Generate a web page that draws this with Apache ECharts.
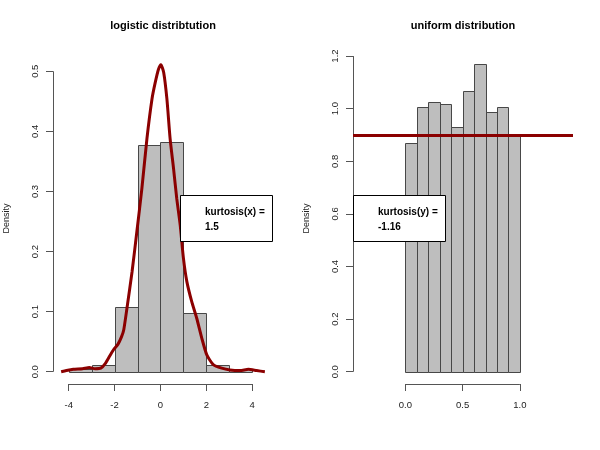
<!DOCTYPE html>
<html><head><meta charset="utf-8">
<script src="https://cdn.jsdelivr.net/npm/echarts@6/dist/echarts.min.js"></script>
<style>html,body{margin:0;padding:0;background:#fff}#c{width:600px;height:450px}</style>
</head><body><div id="c"></div>
<script>
// ---- data ----
const titles = ['logistic distribtution', 'uniform distribution'];
const logisticBreaks = [-4, -3, -2, -1, 0, 1, 2, 3, 4];
const logisticDensity = [0.005, 0.012, 0.108, 0.378, 0.382, 0.098, 0.012, 0.004];
const densityX = [-4.33, -4.1, -3.8, -3.4, -3.1, -2.85, -2.6, -2.4, -2.2, -2.04, -1.85, -1.7, -1.6, -1.46, -1.24, -1.03, -0.81, -0.59, -0.37, -0.23, -0.09, 0.02, 0.14, 0.28, 0.42, 0.57, 0.71, 0.86, 1.0, 1.15, 1.36, 1.58, 1.8, 2.02, 2.3, 2.67, 3.03, 3.47, 3.83, 4.19, 4.55];
const densityY = [0.000, 0.002, 0.004, 0.005, 0.007, 0.005, 0.006, 0.014, 0.027, 0.037, 0.046, 0.058, 0.070, 0.106, 0.166, 0.233, 0.305, 0.388, 0.454, 0.481, 0.503, 0.511, 0.498, 0.454, 0.388, 0.338, 0.288, 0.244, 0.189, 0.150, 0.117, 0.089, 0.056, 0.028, 0.012, 0.006, 0.003, 0.002, 0.004, 0.002, 0.000];
const uniformBreaks = [0, 0.1, 0.2, 0.3, 0.4, 0.5, 0.6, 0.7, 0.8, 0.9, 1.0];
const uniformDensity = [0.869, 1.008, 1.027, 1.019, 0.930, 1.069, 1.169, 0.988, 1.008, 0.898];
const ablineY = 0.9;
const xTicksL = [-4, -2, 0, 2, 4];
const yTicksL = [0, 0.1, 0.2, 0.3, 0.4, 0.5];
const xTicksR = [0, 0.5, 1.0];
const yTicksR = [0, 0.2, 0.4, 0.6, 0.8, 1.0, 1.2];
const legendL = ['kurtosis(x) =', '1.5'];
const legendR = ['kurtosis(y) =', '-1.16'];
const yAxisName = 'Density';
// plot limits (R style, extended by 4%)
const xlimL = [-4.33, 4.55], ylimL = [0, 0.51];
const xlimR = [-0.387, 1.393], ylimR = [0, 1.165];

function ext(l) { const d = (l[1] - l[0]) * 0.04; return [l[0] - d, l[1] + d]; }

const FONT = '"Liberation Sans", Arial, sans-serif';
const DARKRED = '#8B0000';
const AXC = '#555';
const TXT = '#222';

const G = [
  { left: 53, top: 53, width: 220, height: 331 },
  { left: 353, top: 53, width: 220, height: 331 }
];

function xAxisCfg(i, lim, ticks, fmt) {
  const e = ext(lim);
  return {
    type: 'value', gridIndex: i, min: e[0], max: e[1], position: 'bottom',
    axisLine: { show: false, onZero: false }, splitLine: { show: false },
    axisTick: { show: true, customValues: ticks, length: 7, lineStyle: { color: AXC, width: 1 } },
    axisLabel: { customValues: ticks, margin: 16, fontSize: 9.5, color: TXT, fontFamily: FONT, formatter: fmt }
  };
}
function yAxisCfg(i, lim, ticks, fmt) {
  const e = ext(lim);
  return {
    type: 'value', gridIndex: i, min: e[0], max: e[1], position: 'left',
    axisLine: { show: false, onZero: false }, splitLine: { show: false },
    axisTick: { show: true, customValues: ticks, length: 7, lineStyle: { color: AXC, width: 1 } },
    axisLabel: { customValues: ticks, margin: 13, fontSize: 9.5, color: TXT, fontFamily: FONT, rotate: 90, formatter: fmt },
    name: yAxisName, nameLocation: 'middle', nameGap: 42, nameRotate: 90,
    nameTextStyle: { fontSize: 9, color: TXT, fontFamily: FONT }
  };
}

function histSeries(i, breaks, dens) {
  const data = dens.map((d, k) => [breaks[k], breaks[k + 1], d]);
  return {
    type: 'custom', xAxisIndex: i, yAxisIndex: i, data: data, z: 2, clip: false,
    encode: { x: [0, 1], y: 2 },
    renderItem: function (params, api) {
      const p0 = api.coord([api.value(0), 0]);
      const p1 = api.coord([api.value(1), api.value(2)]);
      return {
        type: 'rect',
        shape: { x: Math.round(p0[0]) + 0.5, y: Math.round(p1[1]) + 0.5, width: Math.round(p1[0]) - Math.round(p0[0]), height: Math.round(p0[1]) - Math.round(p1[1]) },
        style: { fill: '#BEBEBE', stroke: '#474747', lineWidth: 1 }
      };
    }
  };
}

function axisLinesSeries(i, xt, yt, xl, yl) {
  const ex = ext(xl), ey = ext(yl);
  return {
    type: 'custom', xAxisIndex: i, yAxisIndex: i, data: [[0]], z: 1, clip: false, silent: true,
    renderItem: function (params, api) {
      const a = api.coord([xt[0], ey[0]]), b = api.coord([xt[xt.length - 1], ey[0]]);
      const c = api.coord([ex[0], yt[0]]), d = api.coord([ex[0], yt[yt.length - 1]]);
      return {
        type: 'group', children: [
          { type: 'line', shape: { x1: a[0], y1: Math.round(a[1]) + 0.5, x2: b[0], y2: Math.round(b[1]) + 0.5 }, style: { stroke: AXC, lineWidth: 1 } },
          { type: 'line', shape: { x1: Math.round(c[0]) + 0.5, y1: c[1], x2: Math.round(d[0]) + 0.5, y2: d[1] }, style: { stroke: AXC, lineWidth: 1 } }
        ]
      };
    }
  };
}

function legendBox(x, y, w, h, lines) {
  return {
    type: 'group', x: x, y: y, z: 100, zlevel: 1, children: [
      { type: 'rect', z: 100, zlevel: 1, shape: { x: 0.5, y: 0.5, width: w, height: h }, style: { fill: '#fff', stroke: '#000', lineWidth: 1 } },
      { type: 'text', z: 101, zlevel: 1, x: 25, y: 17, style: { text: lines[0], font: 'bold 10px ' + FONT, fill: '#000', textVerticalAlign: 'middle' } },
      { type: 'text', z: 101, zlevel: 1, x: 25, y: 32, style: { text: lines[1], font: 'bold 10px ' + FONT, fill: '#000', textVerticalAlign: 'middle' } }
    ]
  };
}

const f1 = v => Number(v).toFixed(1);
const f0 = v => String(Math.round(v));

const option = {
  animation: false,
  backgroundColor: '#fff',
  grid: G,
  xAxis: [xAxisCfg(0, xlimL, xTicksL, f0), xAxisCfg(1, xlimR, xTicksR, f1)],
  yAxis: [yAxisCfg(0, ylimL, yTicksL, f1), yAxisCfg(1, ylimR, yTicksR, f1)],
  series: [
    axisLinesSeries(0, xTicksL, yTicksL, xlimL, ylimL),
    axisLinesSeries(1, xTicksR, yTicksR, xlimR, ylimR),
    histSeries(0, logisticBreaks, logisticDensity),
    histSeries(1, uniformBreaks, uniformDensity),
    {
      type: 'line', xAxisIndex: 0, yAxisIndex: 0, z: 3, showSymbol: false, smooth: 0.2,
      data: densityX.map((x, k) => [x, densityY[k]]),
      lineStyle: { color: DARKRED, width: 3 }
    },
    {
      type: 'line', xAxisIndex: 1, yAxisIndex: 1, z: 3, data: [],
      markLine: {
        silent: true, symbol: ['none', 'none'], label: { show: false },
        lineStyle: { color: DARKRED, width: 3, type: 'solid' },
        data: [{ yAxis: ablineY }]
      }
    }
  ],
  graphic: [
    { type: 'text', x: 163, y: 26, style: { text: titles[0], font: 'bold 11px ' + FONT, fill: '#000', textAlign: 'center', textVerticalAlign: 'middle' } },
    { type: 'text', x: 463, y: 26, style: { text: titles[1], font: 'bold 11px ' + FONT, fill: '#000', textAlign: 'center', textVerticalAlign: 'middle' } },
    legendBox(180, 195, 92, 46, legendL),
    legendBox(353, 195, 92, 46, legendR)
  ]
};
const chart = echarts.init(document.getElementById('c'), null, { renderer: 'canvas' });
chart.setOption(option);
</script></body></html>
